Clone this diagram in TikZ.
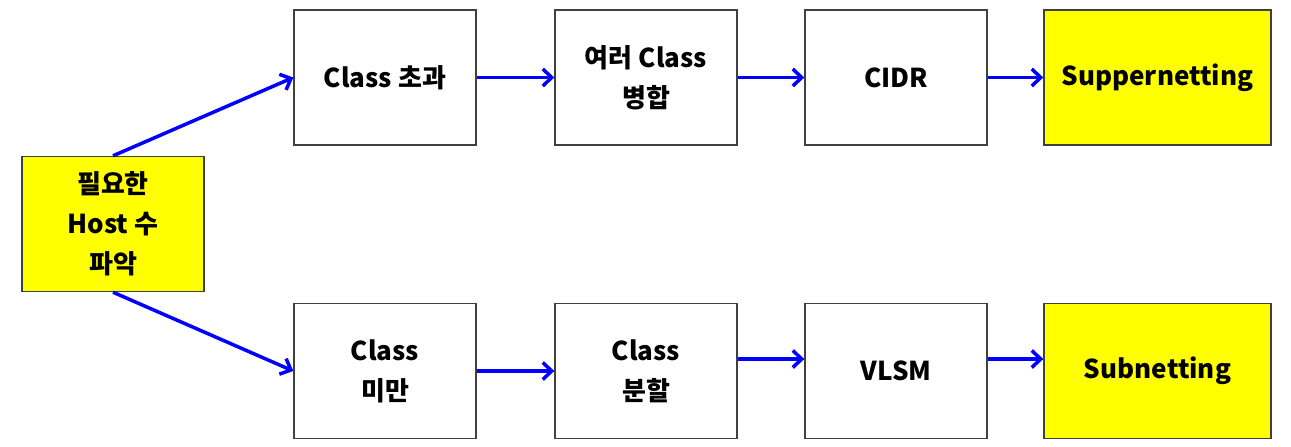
\documentclass[tikz,border=0pt]{standalone}
\usepackage{fontspec}
\setmainfont{Noto Sans CJK KR}
\usetikzlibrary{positioning, arrows.meta}

\begin{document}
\begin{tikzpicture}[x=1pt, y=1pt, yscale=-1,
    flow/.style={draw=black!75, line width=1.4pt, align=center, inner sep=0pt,
      minimum width=182pt, minimum height=135pt,
      font=\fontsize{26}{40}\selectfont\bfseries},
    goal/.style={flow, fill={rgb,255:red,255;green,255;blue,0}},
    >={Straight Barb[length=9pt, width=17pt, line width=3.5pt]},
    link/.style={->, blue, line width=3.5pt}]
    \useasboundingbox (0,0) rectangle (1291,447);

    \node[goal] (host) at (113,224) {필요한\\Host 수\\ 파악};

    \node[flow] (up1) at (385,77.5) {Class 초과};
    \node[flow] (up2) at (646,77.5) {여러 Class\\병합};
    \node[flow] (up3) at (896,77.5) {CIDR};
    \node[goal, minimum width=227pt] (up4) at (1157.5,77.5) {Suppernetting};

    \node[flow] (lo1) at (385,371) {Class\\미만};
    \node[flow] (lo2) at (646,371) {Class\\분할};
    \node[flow] (lo3) at (896,371) {VLSM};
    \node[goal, minimum width=227pt] (lo4) at (1157.5,371) {Subnetting};

    \draw[link] (host.north) -- (up1.west);
    \draw[link] (host.south) -- (lo1.west);

    \draw[link] (up1) -- (up2);
    \draw[link] (up2) -- (up3);
    \draw[link] (up3) -- (up4);

    \draw[link] (lo1) -- (lo2);
    \draw[link] ([yshift=-12pt]lo2.east) -- ([yshift=-12pt]lo3.west);
    \draw[link] ([yshift=-12pt]lo3.east) -- ([yshift=-12pt]lo4.west);
\end{tikzpicture}
\end{document}
